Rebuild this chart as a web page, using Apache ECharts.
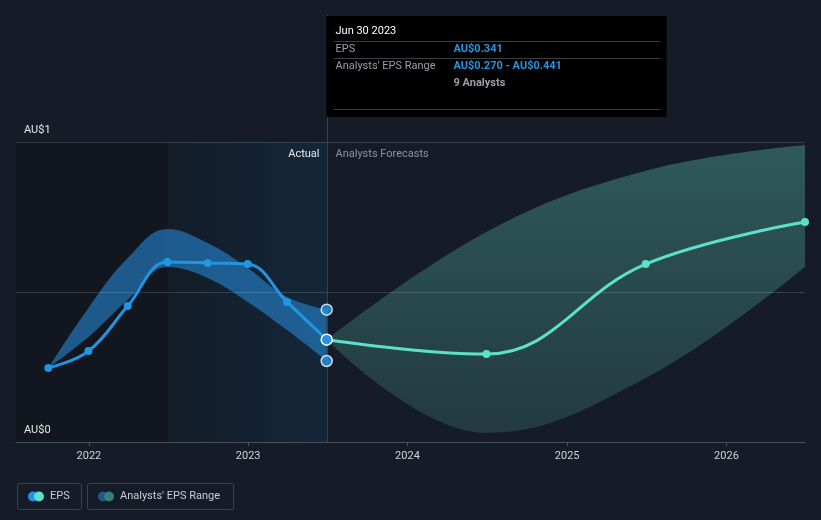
<!DOCTYPE html>
<html>
<head>
<meta charset="utf-8">
<script src="https://cdn.jsdelivr.net/npm/echarts@6/dist/echarts.min.js"></script>
<style>
html,body{margin:0;padding:0;background:#161c27;}
#c{width:821px;height:520px;}
</style>
</head>
<body>
<div id="c"></div>
<script>
// ---- data ----
const actualDates = ['2021-09-30','2021-12-31','2022-03-31','2022-06-30','2022-09-30','2022-12-31','2023-03-31','2023-06-30'];
const actualEps   = [0.247, 0.303, 0.453, 0.600, 0.597, 0.593, 0.467, 0.341];
const actualLow   = [0.247, 0.350, 0.473, 0.583, 0.547, 0.467, 0.373, 0.270];
const actualHigh  = [0.247, 0.447, 0.613, 0.710, 0.663, 0.580, 0.483, 0.441];

const forecastDates = ['2023-06-30','2024-06-30','2025-06-30','2026-06-30'];
const forecastEps   = [0.341, 0.293, 0.593, 0.733];
const forecastLow   = [0.341, 0.030, 0.213, 0.584];
const forecastHigh  = [0.341, 0.700, 0.904, 0.990];

const xMin = '2021-07-18';
const xMax = '2026-06-30';
const pastStart = '2022-06-30';
const todayDate = '2023-06-30';
const yTickLabels = {0: 'AU$0', 1: 'AU$1'};

const tipTitle = 'Jun 30 2023';
const tipEps = 'AU$0.341';
const tipRange = 'AU$0.270 - AU$0.441';
const tipAnalysts = '9 Analysts';

// ---- build ----
const pair = (d, v) => d.map((x, i) => [x, v[i]]);
const diff = (d, lo, hi) => d.map((x, i) => [x, +(hi[i] - lo[i]).toFixed(4)]);
const FONT = 'Roboto, "Noto Sans", sans-serif';
const BLUE = '#2394df';
const TEAL = '#5ce0c8';

const chart = echarts.init(document.getElementById('c'), null, {renderer: 'canvas'});

const lastIdx = actualDates.length - 1;
const epsData = actualDates.map((d, i) => {
  const item = {value: [d, actualEps[i]]};
  if (i === lastIdx) item.itemStyle = {borderColor: '#ffffff', borderWidth: 1.5};
  if (i === lastIdx) item.symbolSize = 11;
  return item;
});

const option = {
  backgroundColor: '#161c27',
  animation: false,
  textStyle: {fontFamily: FONT},
  grid: {left: 16, right: 16, top: 142, bottom: 78, containLabel: false},
  xAxis: {
    type: 'time',
    min: xMin,
    max: xMax,
    minInterval: 365 * 86400000,
    maxInterval: 366 * 86400000,
    axisLine: {lineStyle: {color: '#4a505a', width: 1}},
    axisTick: {show: true, length: 4, lineStyle: {color: '#4a505a'}},
    splitLine: {show: false},
    axisLabel: {
      color: '#d0d3d8', fontSize: 11, margin: 9, fontFamily: FONT,
      formatter: v => String(new Date(v).getFullYear())
    },
    z: 3
  },
  yAxis: {
    type: 'value',
    min: 0, max: 1, interval: 0.5,
    axisLine: {show: false},
    axisTick: {show: false},
    splitLine: {lineStyle: {color: 'rgba(255,255,255,0.15)', width: 1}},
    axisLabel: {
      inside: true, color: '#e6e8ea', fontSize: 11, fontFamily: FONT,
      verticalAlign: 'bottom', margin: 8, padding: [0, 0, 6, 0],
      formatter: v => (yTickLabels[v] !== undefined ? yTickLabels[v] : '')
    },
    z: 3
  },
  series: [
    {
      name: 'bg', type: 'line', data: [], z: 0, silent: true,
      markArea: {
        silent: true,
        data: [
          [{xAxis: xMin, itemStyle: {color: '#12161e'}}, {xAxis: pastStart}],
          [{xAxis: pastStart, itemStyle: {color: new echarts.graphic.LinearGradient(0, 0, 1, 0, [
            {offset: 0, color: '#141c28'}, {offset: 1, color: '#13273a'}])}}, {xAxis: todayDate}]
        ]
      }
    },
    {
      name: 'fLow', type: 'line', stack: 'fb', data: pair(forecastDates, forecastLow),
      smooth: 0.4, symbol: 'none', lineStyle: {opacity: 0}, z: 2, silent: true
    },
    {
      name: 'fBand', type: 'line', stack: 'fb', data: diff(forecastDates, forecastLow, forecastHigh),
      smooth: 0.4, symbol: 'none', lineStyle: {opacity: 0}, z: 2, silent: true,
      areaStyle: {opacity: 1, color: new echarts.graphic.LinearGradient(0, 0, 0, 1, [
        {offset: 0, color: '#2f5959'}, {offset: 1, color: '#223a40'}])}
    },
    {
      name: 'aLow', type: 'line', stack: 'ab', data: pair(actualDates, actualLow),
      smooth: 0.4, symbol: 'none', lineStyle: {opacity: 0}, z: 2, silent: true
    },
    {
      name: 'aBand', type: 'line', stack: 'ab', data: diff(actualDates, actualLow, actualHigh),
      smooth: 0.4, symbol: 'none', lineStyle: {opacity: 0}, z: 2, silent: true,
      areaStyle: {opacity: 1, color: 'rgba(36,122,192,0.68)'}
    },
    {
      name: 'Forecast', type: 'line', data: pair(forecastDates, forecastEps),
      smooth: 0.4, symbol: 'circle', symbolSize: 8, showSymbol: true,
      lineStyle: {color: TEAL, width: 3}, itemStyle: {color: TEAL}, z: 4
    },
    {
      name: 'EPS', type: 'line', data: epsData,
      smooth: 0.4, symbol: 'circle', symbolSize: 8,
      lineStyle: {color: BLUE, width: 3}, itemStyle: {color: BLUE}, z: 5
    },
    {
      name: 'rangeEnds', type: 'scatter',
      data: [[todayDate, actualHigh[lastIdx]], [todayDate, actualLow[lastIdx]]],
      symbolSize: 11, itemStyle: {color: BLUE, borderColor: '#ffffff', borderWidth: 1.5}, z: 6
    }
  ]
};
chart.setOption(option);

// decorations positioned through the axis scales
const todayPx = chart.convertToPixel({xAxisIndex: 0}, todayDate);
const topPx = chart.convertToPixel({yAxisIndex: 0}, 1);
const botPx = chart.convertToPixel({yAxisIndex: 0}, 0);
const tx = Math.round(todayPx) + 0.5;

const graphics = [
  {type: 'line', shape: {x1: tx, y1: 15, x2: tx, y2: botPx}, style: {stroke: '#24466a', lineWidth: 1}, z: 3},
  {type: 'text', x: tx - 8, y: topPx + 12, style: {text: 'Actual', fill: '#e8eaec', font: '11px ' + FONT, textAlign: 'right', textVerticalAlign: 'middle'}, z: 10},
  {type: 'text', x: tx + 8, y: topPx + 12, style: {text: 'Analysts Forecasts', fill: '#8d929a', font: '11px ' + FONT, textAlign: 'left', textVerticalAlign: 'middle'}, z: 10},
  // tooltip
  {type: 'rect', shape: {x: tx - 1, y: 16, width: 340, height: 101}, style: {fill: '#000000'}, z: 20},
  {type: 'text', x: tx + 8, y: 31, style: {text: tipTitle, fill: '#ffffff', font: '11px ' + FONT, textVerticalAlign: 'middle'}, z: 21},
  {type: 'line', shape: {x1: tx + 6, y1: 41.5, x2: tx + 333, y2: 41.5}, style: {stroke: '#3a3d42', lineWidth: 1}, z: 21},
  {type: 'text', x: tx + 8, y: 49, style: {text: 'EPS', fill: '#9a9ea5', font: '11px ' + FONT, textVerticalAlign: 'middle'}, z: 21},
  {type: 'text', x: tx + 126, y: 49, style: {text: tipEps, fill: BLUE, font: 'bold 11px ' + FONT, textVerticalAlign: 'middle'}, z: 21},
  {type: 'line', shape: {x1: tx + 6, y1: 58.5, x2: tx + 333, y2: 58.5}, style: {stroke: '#3a3d42', lineWidth: 1}, z: 21},
  {type: 'text', x: tx + 8, y: 66, style: {text: "Analysts' EPS Range", fill: '#9a9ea5', font: '11px ' + FONT, textVerticalAlign: 'middle'}, z: 21},
  {type: 'text', x: tx + 126, y: 66, style: {text: tipRange, fill: BLUE, font: 'bold 11px ' + FONT, textVerticalAlign: 'middle'}, z: 21},
  {type: 'text', x: tx + 126, y: 83, style: {text: tipAnalysts, fill: '#9a9ea5', font: 'bold 11px ' + FONT, textVerticalAlign: 'middle'}, z: 21},
  {type: 'line', shape: {x1: tx + 6, y1: 109.5, x2: tx + 333, y2: 109.5}, style: {stroke: '#3a3d42', lineWidth: 1}, z: 21},
  // legend
  {type: 'rect', shape: {x: 17.5, y: 483.5, width: 64, height: 26, r: 2}, style: {fill: 'none', stroke: '#3c424d', lineWidth: 1}, z: 10},
  {type: 'circle', shape: {cx: 33, cy: 496.5, r: 5}, style: {fill: BLUE}, z: 11},
  {type: 'circle', shape: {cx: 39, cy: 496.5, r: 5}, style: {fill: TEAL}, z: 12},
  {type: 'text', x: 50, y: 496.5, style: {text: 'EPS', fill: '#c9ccd1', font: '11px ' + FONT, textVerticalAlign: 'middle'}, z: 11},
  {type: 'rect', shape: {x: 87.5, y: 483.5, width: 146, height: 26, r: 2}, style: {fill: 'none', stroke: '#3c424d', lineWidth: 1}, z: 10},
  {type: 'circle', shape: {cx: 103, cy: 496.5, r: 5}, style: {fill: '#21578a'}, z: 11},
  {type: 'circle', shape: {cx: 109, cy: 496.5, r: 5}, style: {fill: '#3d7d78'}, z: 12},
  {type: 'text', x: 120, y: 496.5, style: {text: "Analysts' EPS Range", fill: '#c9ccd1', font: '11px ' + FONT, textVerticalAlign: 'middle'}, z: 11}
];
chart.setOption({graphic: graphics});
</script>
</body>
</html>
